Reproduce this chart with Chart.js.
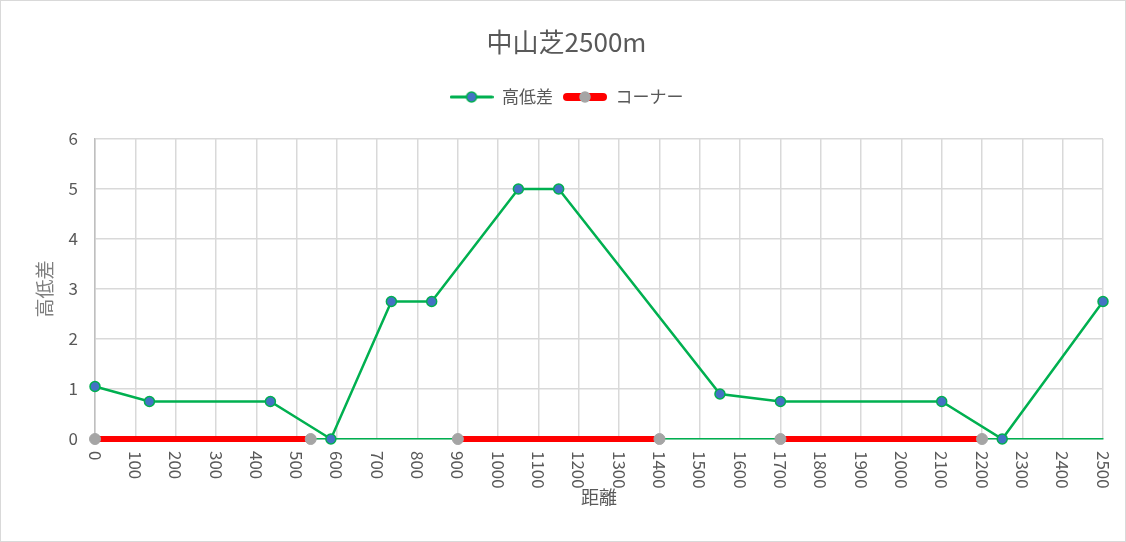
<!DOCTYPE html>
<html>
<head>
<meta charset="utf-8">
<script src="https://cdn.jsdelivr.net/npm/chart.js@4"></script>
<style>
  body { margin: 0; background: #fff; }
  #wrap { width: 1124px; height: 540px; border: 1px solid #d9d9d9; }
</style>
</head>
<body>
<div id="wrap"><canvas id="chart"></canvas></div>
<script>
// Course profile data (distance in m, elevation in m)
const distances = [0, 135, 435, 585, 735, 835, 1050, 1150, 1550, 1700, 2100, 2250, 2500];
const elevations = [1.05, 0.75, 0.75, 0, 2.75, 2.75, 5, 5, 0.9, 0.75, 0.75, 0, 2.75];

// Corner sections (start / end distance)
const cornerStarts = [0, 900, 1700];
const cornerEnds = [535, 1400, 2200];

const seriesNames = ['高低差', 'コーナー'];
const chartTitle = '中山芝2500m';
const xTitle = '距離';
const yTitle = '高低差';

const GREEN = '#00b050';
const BLUE = '#4472c4';
const RED = '#ff0000';
const GRAY = '#a5a5a5';
const TEXT = '#595959';
const FONT = '"Noto Sans CJK JP", "Noto Sans", sans-serif';

// Build scatter data
const elevationData = distances.map((d, i) => ({ x: d, y: elevations[i] }));
const cornerData = cornerStarts.flatMap((s, i) => [
    { x: s, y: 0 },
    { x: cornerEnds[i], y: 0 },
    { x: cornerEnds[i], y: null }
]);

// Legend icons: line with a marker in the middle
function legendIcon(lineColor, lineWidth, fill, border) {
    const c = document.createElement('canvas');
    c.width = 44;
    c.height = 14;
    const g = c.getContext('2d');
    g.strokeStyle = lineColor;
    g.lineWidth = lineWidth;
    g.lineCap = 'round';
    g.beginPath();
    g.moveTo(lineWidth / 2, 7);
    g.lineTo(44 - lineWidth / 2, 7);
    g.stroke();
    g.beginPath();
    g.arc(22, 7, 5, 0, Math.PI * 2);
    g.fillStyle = fill;
    g.fill();
    g.lineWidth = 1.5;
    g.strokeStyle = border;
    g.stroke();
    return c;
}
const legendIcons = [legendIcon(GREEN, 3, BLUE, GREEN), legendIcon(RED, 8, GRAY, GRAY)];

// Excel style x labels, rotated clockwise
const xLabelPlugin = {
    id: 'xLabels',
    afterDraw(chart) {
        const { ctx } = chart;
        const x = chart.scales.x;
        ctx.save();
        ctx.font = '17px ' + FONT;
        ctx.fillStyle = TEXT;
        ctx.textAlign = 'left';
        ctx.textBaseline = 'middle';
        x.ticks.forEach(t => {
            ctx.save();
            ctx.translate(x.getPixelForValue(t.value), x.top + 12);
            ctx.rotate(Math.PI / 2);
            ctx.fillText(String(t.value), 0, 0);
            ctx.restore();
        });
        ctx.restore();
    }
};

new Chart(document.getElementById('chart'), {
    type: 'scatter',
    data: {
        datasets: [{
            label: seriesNames[0],
            data: elevationData,
            showLine: true,
            borderColor: GREEN,
            borderWidth: 2.5,
            backgroundColor: BLUE,
            pointBackgroundColor: BLUE,
            pointBorderColor: GREEN,
            pointBorderWidth: 1.5,
            pointRadius: 5,
            pointStyle: 'circle',
            tension: 0,
            clip: false
        }, {
            label: seriesNames[1],
            data: cornerData,
            showLine: true,
            spanGaps: false,
            borderColor: RED,
            borderWidth: 6,
            backgroundColor: GRAY,
            pointBackgroundColor: GRAY,
            pointBorderColor: GRAY,
            pointBorderWidth: 1,
            pointRadius: 5.5,
            pointStyle: 'circle',
            tension: 0,
            clip: false
        }]
    },
    options: {
        responsive: true,
        maintainAspectRatio: false,
        animation: false,
        layout: { padding: { left: 29, right: 22, top: 0, bottom: 0 } },
        plugins: {
            title: {
                display: true,
                text: chartTitle,
                color: TEXT,
                font: { family: FONT, size: 26, weight: 'normal', lineHeight: 1.2 },
                padding: { top: 26, bottom: 20.3 }
            },
            subtitle: {
                display: true,
                text: '',
                weight: 500,
                font: { size: 10, lineHeight: 1 },
                padding: { top: 0, bottom: 13.5 }
            },
            legend: {
                display: true,
                position: 'top',
                labels: {
                    usePointStyle: true,
                    pointStyleWidth: 44,
                    color: TEXT,
                    font: { family: FONT, size: 17 },
                    padding: 10,
                    generateLabels(chart) {
                        const items = Chart.defaults.plugins.legend.labels.generateLabels(chart);
                        items.forEach((item, i) => { item.pointStyle = legendIcons[i]; });
                        return items;
                    }
                }
            },
            tooltip: { enabled: false }
        },
        scales: {
            x: {
                type: 'linear',
                min: 0,
                max: 2500,
                ticks: { stepSize: 100, display: false },
                grid: { color: '#d9d9d9', lineWidth: 1.5, drawTicks: false },
                border: { color: GREEN, width: 1.5 },
                title: {
                    display: true,
                    text: xTitle,
                    color: TEXT,
                    font: { family: FONT, size: 18, lineHeight: 1.2 },
                    padding: { top: 0, bottom: 33 }
                },
                afterFit: s => { s.height = 102; }
            },
            y: {
                min: 0,
                max: 6,
                ticks: {
                    stepSize: 1,
                    color: TEXT,
                    font: { family: FONT, size: 17 },
                    padding: 17
                },
                grid: { color: '#d9d9d9', lineWidth: 1.5, drawTicks: false },
                border: { color: '#bfbfbf', width: 1.5 },
                title: {
                    display: true,
                    text: yTitle,
                    color: '#7f7f7f',
                    font: { family: FONT, size: 19, lineHeight: 1.2 },
                    padding: { top: 3, bottom: 0 }
                },
                afterFit: s => { s.width = 65; }
            }
        }
    },
    plugins: [xLabelPlugin]
});
</script>
</body>
</html>
